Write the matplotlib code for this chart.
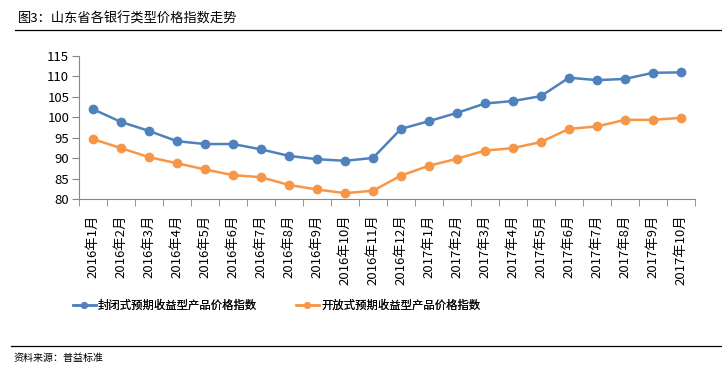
import matplotlib
matplotlib.use("Agg")
import matplotlib.pyplot as plt
from matplotlib.lines import Line2D

plt.rcParams['font.family'] = ['Noto Sans CJK SC', 'DejaVu Sans']

months = ["2016年1月", "2016年2月", "2016年3月", "2016年4月", "2016年5月", "2016年6月",
          "2016年7月", "2016年8月", "2016年9月", "2016年10月", "2016年11月", "2016年12月",
          "2017年1月", "2017年2月", "2017年3月", "2017年4月", "2017年5月", "2017年6月",
          "2017年7月", "2017年8月", "2017年9月", "2017年10月"]
closed_idx = [102.0, 98.9, 96.7, 94.2, 93.5, 93.5, 92.2, 90.6, 89.8, 89.4, 90.1, 97.2,
              99.1, 101.1, 103.4, 104.0, 105.2, 109.7, 109.1, 109.4, 110.9, 111.0]
open_idx = [94.7, 92.5, 90.3, 88.8, 87.3, 85.9, 85.4, 83.5, 82.4, 81.5, 82.1, 85.8,
            88.2, 89.9, 91.9, 92.5, 94.0, 97.2, 97.8, 99.4, 99.4, 99.9]
names = ["封闭式预期收益型产品价格指数", "开放式预期收益型产品价格指数"]

blue = "#4F81BD"
orange = "#F79646"
axcol = "#868686"

fig = plt.figure(figsize=(7.22, 3.75), dpi=100)
ax = fig.add_axes([0.1094, 0.4685, 0.8532, 0.3822])

x = list(range(len(months)))
ax.plot(x, closed_idx, color=blue, lw=1.8, marker="o", ms=6, label=names[0])
ax.plot(x, open_idx, color=orange, lw=1.8, marker="o", ms=6, label=names[1])

ax.set_xlim(-0.5, len(months) - 0.5)
ax.set_ylim(80, 115)
ax.set_yticks(range(80, 116, 5))
ax.set_xticks(x)
ax.set_xticklabels(months, rotation=90, fontsize=9.5)
ax.set_xticks([i - 0.5 for i in range(len(months) + 1)], minor=True)
ax.tick_params(axis="x", which="major", length=0, pad=11)
ax.tick_params(axis="x", which="minor", length=5, color=axcol)
ax.tick_params(axis="y", length=5, color=axcol, labelsize=9.5, pad=2)
for s in ["top", "right"]:
    ax.spines[s].set_visible(False)
for s in ["left", "bottom"]:
    ax.spines[s].set_color(axcol)
    ax.spines[s].set_linewidth(0.8)

# two legend entries placed separately, like the original
leg_y = 1 - 305 / 375
for name, col, lx in [(names[0], blue, 73 / 722), (names[1], orange, 296 / 722)]:
    h = Line2D([0], [0], color=col, lw=1.8, marker="o", ms=4)
    lg = fig.legend([h], [name], loc="center left", bbox_to_anchor=(lx, leg_y),
                    frameon=False, fontsize=8.2, handlelength=2.0, handletextpad=0.2,
                    borderpad=0, borderaxespad=0)
    fig.add_artist(lg)

fig.text(18 / 722, 1 - 19 / 375, "图3：山东省各银行类型价格指数走势", fontsize=9.5, va="center")
fig.add_artist(Line2D([15 / 722, 1], [1 - 30 / 375] * 2, color="black", lw=0.9))
fig.add_artist(Line2D([11 / 722, 1], [1 - 346 / 375] * 2, color="black", lw=0.9))
fig.text(14 / 722, 1 - 358 / 375, "资料来源：普益标准", fontsize=7.2, va="center")

fig.savefig("out.png", dpi=100)
